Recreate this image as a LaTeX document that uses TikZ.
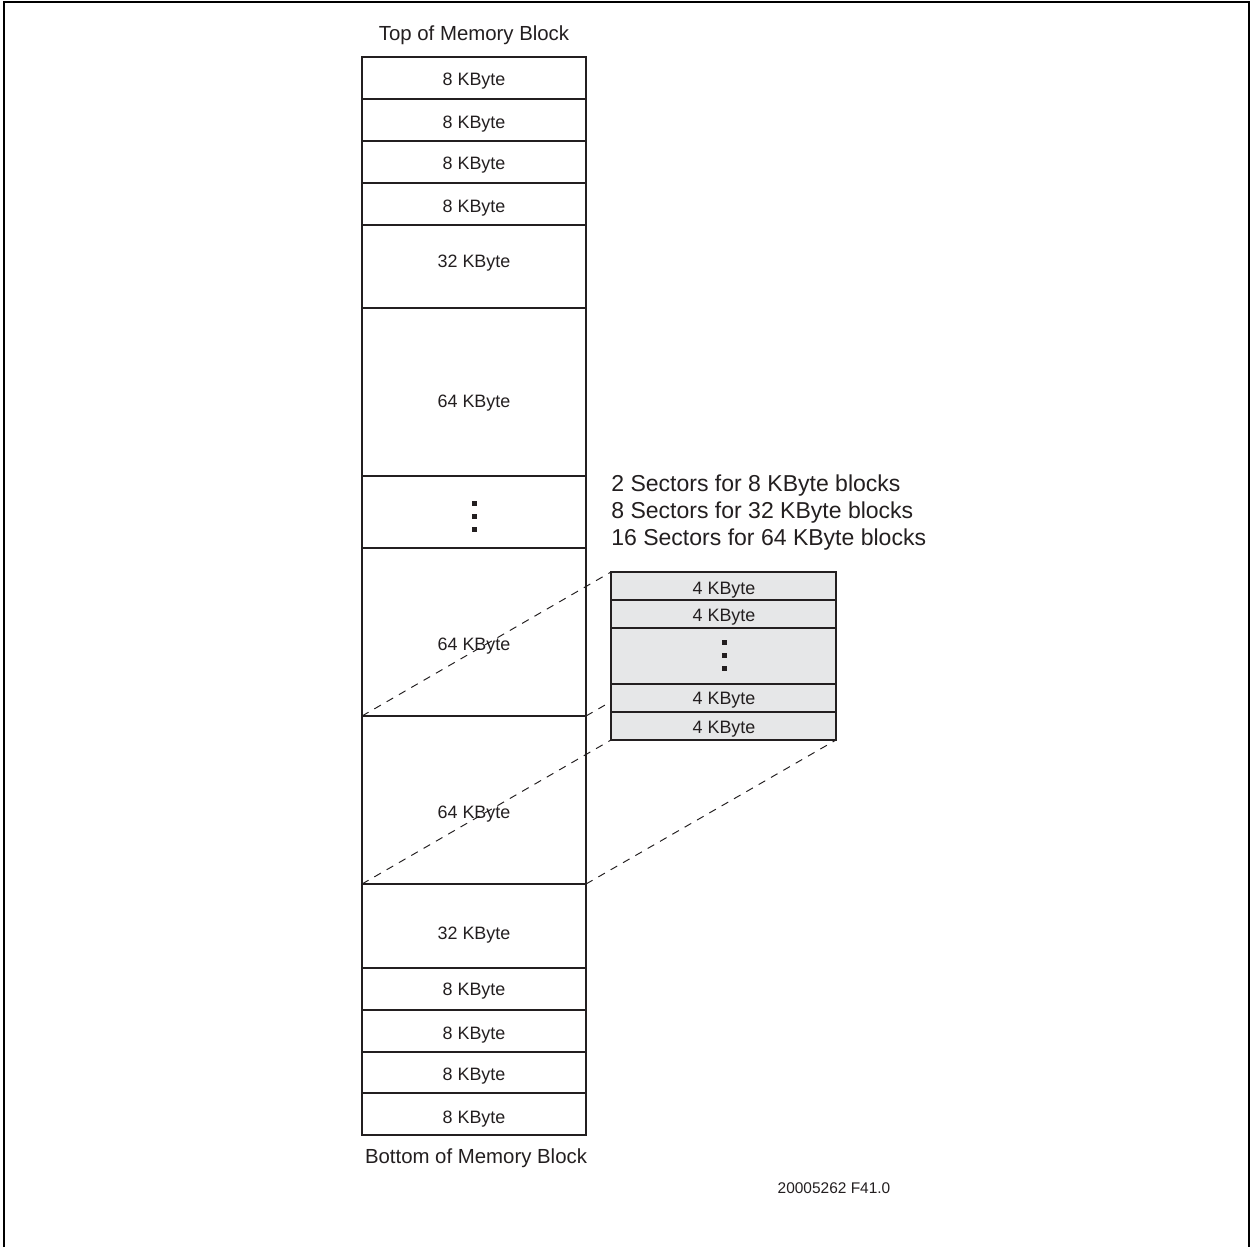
\documentclass[tikz,border=0pt]{standalone}
\usepackage{fontspec}
\setmainfont{Liberation Sans}
\definecolor{txt}{HTML}{231F20}
\definecolor{boxc}{HTML}{231F20}
\definecolor{grayfill}{HTML}{E6E7E8}
\begin{document}
\begin{tikzpicture}[x=0.02cm,y=-0.02cm,
  cell/.style={draw=boxc, line width=1.1pt},
  lbl/.style={inner sep=0pt, yshift=-1.4pt, font=\fontsize{10.2}{12}\selectfont, text=txt},
  big/.style={inner sep=0pt, yshift=-1.6pt, font=\fontsize{13.1}{15}\selectfont, text=txt, anchor=west},
  captxt/.style={inner sep=0pt, yshift=-1.3pt, font=\fontsize{11.6}{14}\selectfont, text=txt},
  proj/.style={dash pattern=on 4.3pt off 3.8pt, line width=0.55pt, draw=txt},
  dotsq/.style={fill=txt}]
\useasboundingbox (0,0) rectangle (1250,1247);
\fill[white] (0,0) rectangle (1250,1247);
% frame
\draw[line width=1.7pt] (4,1247) -- (4,2) -- (1249,2) -- (1249,1247);

% named corners
\coordinate (mTL) at (362,716);
\coordinate (mTR) at (586,716);
\coordinate (mBL) at (362,884);
\coordinate (mBR) at (586,884);
\coordinate (gTL) at (611,572);
\coordinate (gTR) at (836,572);
\coordinate (gBL) at (611,740);
\coordinate (gBR) at (836,740);

% projection lines
\draw[proj] (mTL) -- (gTL);
\draw[proj] (mTR) -- (gTR);
\draw[proj] (mBL) -- (gBL);
\draw[proj] (mBR) -- (gBR);

% main column cells
\foreach \a/\b in {57/99,99/141,141/183,183/225,225/308,308/476,476/548,548/716,716/884,884/968,968/1010,1010/1052,1052/1093,1093/1135}
  \draw[cell] (362,\a) rectangle (586,\b);

% sector box
\foreach \a/\b in {572/600,600/628,628/684,684/712,712/740}
  \draw[cell, fill=grayfill] (611,\a) rectangle (836,\b);

% labels main column
\node[captxt] (top) at (474,33) {Top of Memory Block};
\node[lbl] (c1) at (474,79) {8 KByte};
\node[lbl] (c2) at (474,122) {8 KByte};
\node[lbl] (c3) at (474,163) {8 KByte};
\node[lbl] (c4) at (474,206) {8 KByte};
\node[lbl] (c5) at (474,261) {32 KByte};
\node[lbl] (c6) at (474,401) {64 KByte};
\foreach \y in {503,516,529}
  \fill[dotsq] (471.5,\y-2.5) rectangle (476.5,\y+2.5);
\node[lbl] (c8) at (474,644) {64 KByte};
\node[lbl] (c9) at (474,812) {64 KByte};
\node[lbl] (c10) at (474,933) {32 KByte};
\node[lbl] (c11) at (474,989) {8 KByte};
\node[lbl] (c12) at (474,1033) {8 KByte};
\node[lbl] (c13) at (474,1074) {8 KByte};
\node[lbl] (c14) at (474,1117) {8 KByte};
\node[captxt] (bot) at (476,1156) {Bottom of Memory Block};

% sector description
\node[big] (s1) at (611,483) {2 Sectors for 8 KByte blocks};
\node[big] (s2) at (611,510) {8 Sectors for 32 KByte blocks};
\node[big] (s3) at (611,537) {16 Sectors for 64 KByte blocks};

% sector labels
\node[lbl] (g1) at (724,588) {4 KByte};
\node[lbl] (g2) at (724,615) {4 KByte};
\foreach \y in {642,655,668}
  \fill[dotsq] (721.5,\y-2.5) rectangle (726.5,\y+2.5);
\node[lbl] (g4) at (724,698) {4 KByte};
\node[lbl] (g5) at (724,727) {4 KByte};

\node[inner sep=0pt, yshift=-1.2pt, font=\fontsize{8.8}{10}\selectfont, text=txt] (fig) at (834,1186) {20005262 F41.0};
\end{tikzpicture}
\end{document}
